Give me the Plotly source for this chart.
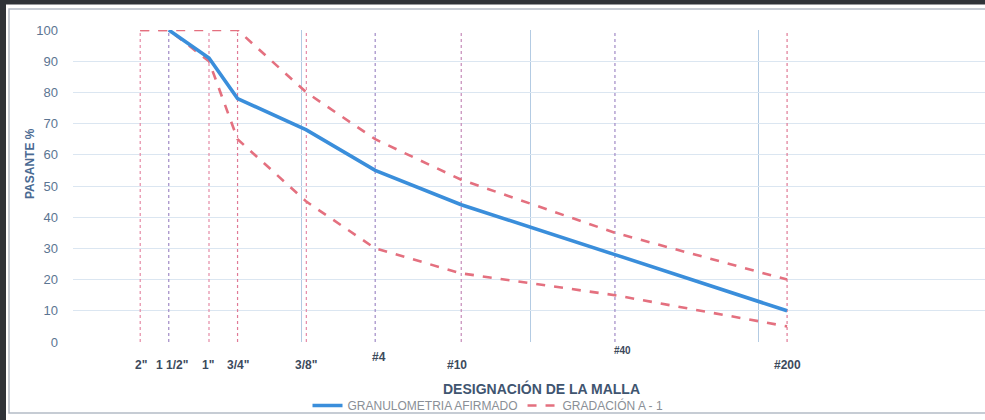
import numpy as np
import plotly.graph_objects as go

# ---- data ----
sieve_mm = [50.8, 38.1, 25.4, 19.05, 9.525, 4.76, 2.0, 0.425, 0.075]
sieve_labels = ['2"', '1 1/2"', '1"', '3/4"', '3/8"', '#4', '#10', '#40', '#200']
afirmado = [None, 100, 91, 78, 68, 55, 44, 28, 10]
a1_upper = [100, 100, 100, 100, 80, 65, 52, 35, 20]
a1_lower = [100, 100, 90, 65, 45, 30, 22, 15, 5]
y_ticks = [0, 10, 20, 30, 40, 50, 60, 70, 80, 90, 100]
log_grid = [100, 10, 1, 0.1, 0.01]

FONT = "Liberation Sans, Arial, sans-serif"
W, H = 985, 420
ML, MR, MT, MB = 73, 0, 30, 78
PW = W - ML - MR
PH = H - MT - MB


def px2paper_x(px):
    return (px - ML) / PW


def px2paper_y(py):
    return 1 - (py - MT) / PH


fig = go.Figure()

# vertical dotted sieve lines
vcols = ["#e58aa6", "#a08ac6", "#e58aa6", "#e07a96", "#e58aa6", "#a08ac6", "#c58ab8", "#a08ac6", "#e07a96"]
for s, c in zip(sieve_mm, vcols):
    fig.add_trace(go.Scatter(x=[s, s], y=[0, 100], mode="lines",
                             line=dict(color=c, width=1.2, dash="dot"),
                             showlegend=False, hoverinfo="skip"))

# gradation A-1 limits
pink = "#e4707f"
fig.add_trace(go.Scatter(x=sieve_mm, y=a1_upper, mode="lines", name="GRADACIÓN A - 1",
                         legendgroup="a1", line=dict(color=pink, width=2.6, dash="dash")))
fig.add_trace(go.Scatter(x=sieve_mm, y=a1_lower, mode="lines", name="GRADACIÓN A - 1",
                         legendgroup="a1", showlegend=False,
                         line=dict(color=pink, width=2.6, dash="dash")))
# sample curve
fig.add_trace(go.Scatter(x=sieve_mm, y=afirmado, mode="lines", name="GRANULOMETRIA AFIRMADO",
                         connectgaps=False, line=dict(color="#3a8edb", width=3.6)))

# x tick labels as annotations (log coords)
lab_shift = [1, 3, -1, 0, 0, 4, -4, 8, 0]
lab_y = [365, 365, 365, 365, 365, 357, 365, 350, 365]
lab_size = [12, 12, 12, 12, 12, 12, 12, 10, 12]
annotations = []
for s, t, dx, yy, fs in zip(sieve_mm, sieve_labels, lab_shift, lab_y, lab_size):
    annotations.append(dict(x=np.log10(s), xref="x", y=px2paper_y(yy), yref="paper",
                            text="<b>" + t + "</b>", showarrow=False, xshift=dx,
                            font=dict(family=FONT, size=fs, color="#3c4a5c"),
                            xanchor="center", yanchor="middle"))
annotations.append(dict(x=px2paper_x(541), xref="paper", y=px2paper_y(388), yref="paper",
                        text="<b>DESIGNACIÓN DE LA MALLA</b>", showarrow=False,
                        font=dict(family=FONT, size=14, color="#3f5570"),
                        xanchor="center", yanchor="middle"))
annotations.append(dict(x=px2paper_x(30), xref="paper", y=px2paper_y(164), yref="paper",
                        text="<b>PASANTE %</b>", showarrow=False, textangle=-90,
                        font=dict(family=FONT, size=12, color="#4a6a92"),
                        xanchor="center", yanchor="middle"))

shapes = [
    dict(type="rect", xref="paper", yref="paper",
         x0=px2paper_x(9), x1=px2paper_x(995), y0=px2paper_y(413), y1=px2paper_y(9),
         line=dict(color="#b4bcc6", width=1.5), fillcolor="rgba(0,0,0,0)", layer="below"),
    dict(type="line", xref="paper", yref="paper",
         x0=px2paper_x(0), x1=px2paper_x(990), y0=px2paper_y(2), y1=px2paper_y(2),
         line=dict(color="#2f3338", width=5)),
    dict(type="line", xref="paper", yref="paper",
         x0=px2paper_x(3), x1=px2paper_x(3), y0=px2paper_y(0), y1=px2paper_y(420),
         line=dict(color="#2f3338", width=6)),
]

fig.update_layout(
    width=W, height=H,
    margin=dict(l=ML, r=MR, t=MT, b=MB),
    paper_bgcolor="white", plot_bgcolor="white",
    font=dict(family=FONT),
    xaxis=dict(type="log", range=[2, -1.991], tickvals=log_grid, showticklabels=False,
               showgrid=True, gridcolor="#b3cbe3", gridwidth=1, zeroline=False,
               showline=False, ticks=""),
    yaxis=dict(range=[0, 100], tickvals=y_ticks, showgrid=True, gridcolor="#dbe6f1",
               gridwidth=1, zeroline=False, showline=False, ticks="",
               ticklabelstandoff=14,
               tickfont=dict(family=FONT, size=13, color="#5b7592")),
    legend=dict(orientation="h", x=px2paper_x(488), xanchor="center",
                y=px2paper_y(406), yanchor="middle",
                font=dict(family=FONT, size=12, color="#8a8f96"),
                traceorder="reversed", bgcolor="rgba(0,0,0,0)"),
    annotations=annotations,
    shapes=shapes,
)

fig.write_html("out.html", config={"displayModeBar": False},
               post_script="document.body.style.margin='0';document.body.style.overflow='hidden';")
